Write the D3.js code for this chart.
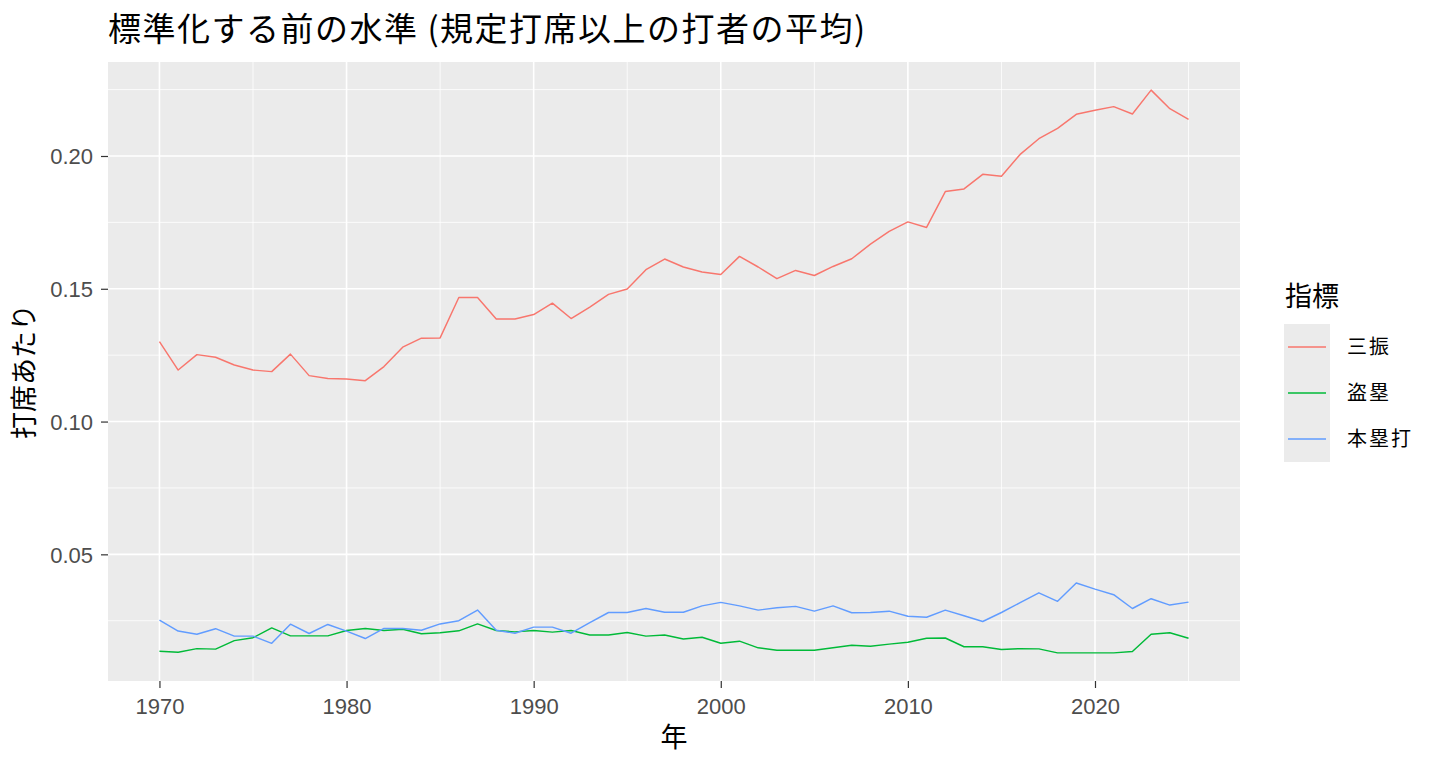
<!DOCTYPE html>
<html><head><meta charset="utf-8">
<script src="https://cdn.jsdelivr.net/npm/d3@7"></script>
<style>
html,body{margin:0;padding:0;background:#fff;}
svg{display:block;}
</style></head>
<body><svg id="chart" width="1440" height="768"></svg>
<script>
const years = d3.range(1970, 2026);
const seriesNames = ["三振", "盗塁", "本塁打"];
const seriesColors = ["#F8766D", "#00BA38", "#619CFF"];
const strikeouts = [0.1301,0.1194,0.1252,0.1242,0.1213,0.1194,0.1188,0.1254,0.1173,0.1162,
  0.1160,0.1154,0.1207,0.1280,0.1314,0.1315,0.1467,0.1467,0.1386,0.1386,
  0.1403,0.1446,0.1388,0.1431,0.1479,0.1499,0.1572,0.1612,0.1582,0.1563,
  0.1554,0.1622,0.1582,0.1538,0.1569,0.1550,0.1584,0.1613,0.1668,0.1716,
  0.1752,0.1731,0.1866,0.1876,0.1931,0.1924,0.2006,0.2065,0.2104,0.2157,
  0.2172,0.2186,0.2158,0.2248,0.2178,0.2138];
const steals = [0.0135,0.0131,0.0145,0.0143,0.0175,0.0186,0.0223,0.0193,0.0193,0.0193,
  0.0213,0.0221,0.0213,0.0218,0.0201,0.0205,0.0212,0.0238,0.0213,0.0208,
  0.0213,0.0207,0.0213,0.0196,0.0196,0.0206,0.0192,0.0196,0.0181,0.0188,
  0.0165,0.0173,0.0148,0.0139,0.0139,0.0139,0.0148,0.0158,0.0154,0.0162,
  0.0169,0.0184,0.0185,0.0152,0.0152,0.0142,0.0145,0.0144,0.0129,0.0129,
  0.0129,0.0129,0.0134,0.0199,0.0205,0.0184];
const homeruns = [0.0252,0.0211,0.0199,0.0220,0.0192,0.0192,0.0165,0.0237,0.0202,0.0236,
  0.0211,0.0183,0.0221,0.0221,0.0214,0.0238,0.0250,0.0290,0.0214,0.0203,
  0.0226,0.0226,0.0203,0.0243,0.0281,0.0281,0.0296,0.0282,0.0282,0.0306,
  0.0319,0.0306,0.0290,0.0299,0.0304,0.0286,0.0306,0.0280,0.0281,0.0286,
  0.0267,0.0263,0.0290,0.0269,0.0247,0.0281,0.0318,0.0355,0.0323,0.0392,
  0.0369,0.0348,0.0296,0.0333,0.0309,0.0320];
const xTicks = [1970, 1980, 1990, 2000, 2010, 2020];
const xMinor = [1975, 1985, 1995, 2005, 2015, 2025];
const yTicks = [0.05, 0.10, 0.15, 0.20];
const yMinor = [0.025, 0.075, 0.125, 0.175, 0.225];
const titleText = "標準化する前の水準 (規定打席以上の打者の平均)";
const xTitle = "年";
const yTitle = "打席あたり";
const legendTitle = "指標";

const allValues = [strikeouts, steals, homeruns];
const series = seriesNames.map((n, i) => ({name: n, color: seriesColors[i], values: allValues[i]}));

const svg = d3.select("#chart");
const P = {left: 108, right: 1240, top: 62, bottom: 681};
const CJK = "'Noto Sans CJK JP', 'Noto Sans', sans-serif";
const LAT = "'Liberation Sans', Arial, 'Noto Sans CJK JP', sans-serif";

const xExt = d3.extent(years);
const xPad = (xExt[1] - xExt[0]) * 0.05;
const x = d3.scaleLinear().domain([xExt[0] - xPad, xExt[1] + xPad]).range([P.left, P.right]);
const flat = allValues.flat();
const yExt = d3.extent(flat);
const yPad = (yExt[1] - yExt[0]) * 0.05;
const y = d3.scaleLinear().domain([yExt[0] - yPad, yExt[1] + yPad]).range([P.bottom, P.top]);

svg.append("rect").attr("x", P.left).attr("y", P.top)
  .attr("width", P.right - P.left).attr("height", P.bottom - P.top).attr("fill", "#EBEBEB");

const grid = svg.append("g");
grid.selectAll(".xmin").data(xMinor).join("line")
  .attr("x1", d => x(d)).attr("x2", d => x(d)).attr("y1", P.top).attr("y2", P.bottom)
  .attr("stroke", "#fff").attr("stroke-width", 0.8);
grid.selectAll(".ymin").data(yMinor).join("line")
  .attr("y1", d => y(d)).attr("y2", d => y(d)).attr("x1", P.left).attr("x2", P.right)
  .attr("stroke", "#fff").attr("stroke-width", 0.8);
grid.selectAll(".xmaj").data(xTicks).join("line")
  .attr("x1", d => x(d)).attr("x2", d => x(d)).attr("y1", P.top).attr("y2", P.bottom)
  .attr("stroke", "#fff").attr("stroke-width", 1.6);
grid.selectAll(".ymaj").data(yTicks).join("line")
  .attr("y1", d => y(d)).attr("y2", d => y(d)).attr("x1", P.left).attr("x2", P.right)
  .attr("stroke", "#fff").attr("stroke-width", 1.6);

const line = d3.line().x((d, i) => x(years[i])).y(d => y(d));
svg.append("g").selectAll("path").data(series).join("path")
  .attr("d", d => line(d.values)).attr("fill", "none")
  .attr("stroke", d => d.color).attr("stroke-width", 1.45).attr("stroke-linejoin", "round");

// axes
const xAxis = svg.append("g").attr("transform", `translate(0,${P.bottom})`)
  .call(d3.axisBottom(x).tickValues(xTicks).tickFormat(d3.format("d")).tickSize(7).tickPadding(5));
const yAxis = svg.append("g").attr("transform", `translate(${P.left},0)`)
  .call(d3.axisLeft(y).tickValues(yTicks).tickFormat(d3.format(".2f")).tickSize(7).tickPadding(5));
[xAxis, yAxis].forEach(a => {
  a.select(".domain").remove();
  a.selectAll(".tick line").attr("stroke", "#333").attr("stroke-width", 1.2);
  a.selectAll(".tick text").attr("fill", "#4D4D4D").style("font-family", LAT).style("font-size", "22px");
});
xAxis.selectAll(".tick text").attr("dy", null).attr("y", 0).attr("dominant-baseline", "auto")
  .attr("transform", "translate(0,33)");
yAxis.selectAll(".tick text").attr("x", -15).attr("dy", "0.36em");

// titles
svg.append("text").attr("x", 108).attr("y", 41).text(titleText)
  .style("font-family", CJK).style("font-size", "33px").style("letter-spacing", "1.5px").attr("fill", "#000");
svg.append("text").attr("x", (P.left + P.right) / 2).attr("y", 747).attr("text-anchor", "middle")
  .text(xTitle).style("font-family", CJK).style("font-size", "27px").attr("fill", "#000");
svg.append("text").attr("transform", `translate(34,${(P.top + P.bottom) / 2}) rotate(-90)`)
  .attr("text-anchor", "middle").text(yTitle)
  .style("font-family", CJK).style("font-size", "27px").attr("fill", "#000");

// legend
const lg = svg.append("g");
lg.append("text").attr("x", 1285).attr("y", 306).text(legendTitle)
  .style("font-family", CJK).style("font-size", "27px").attr("fill", "#000");
const keyTop = 324, keySize = 46, keyLeft = 1284;
const items = lg.selectAll(".item").data(series).join("g")
  .attr("transform", (d, i) => `translate(${keyLeft},${keyTop + i * keySize})`);
items.append("rect").attr("width", keySize).attr("height", keySize).attr("fill", "#EBEBEB");
items.append("line").attr("x1", 4).attr("x2", keySize - 4).attr("y1", keySize / 2).attr("y2", keySize / 2)
  .attr("stroke", d => d.color).attr("stroke-width", 1.45);
items.append("text").attr("x", 63).attr("y", keySize / 2).attr("dy", "0.36em").text(d => d.name)
  .style("font-family", CJK).style("font-size", "20px").style("letter-spacing", "2px").attr("fill", "#000");
</script></body></html>
